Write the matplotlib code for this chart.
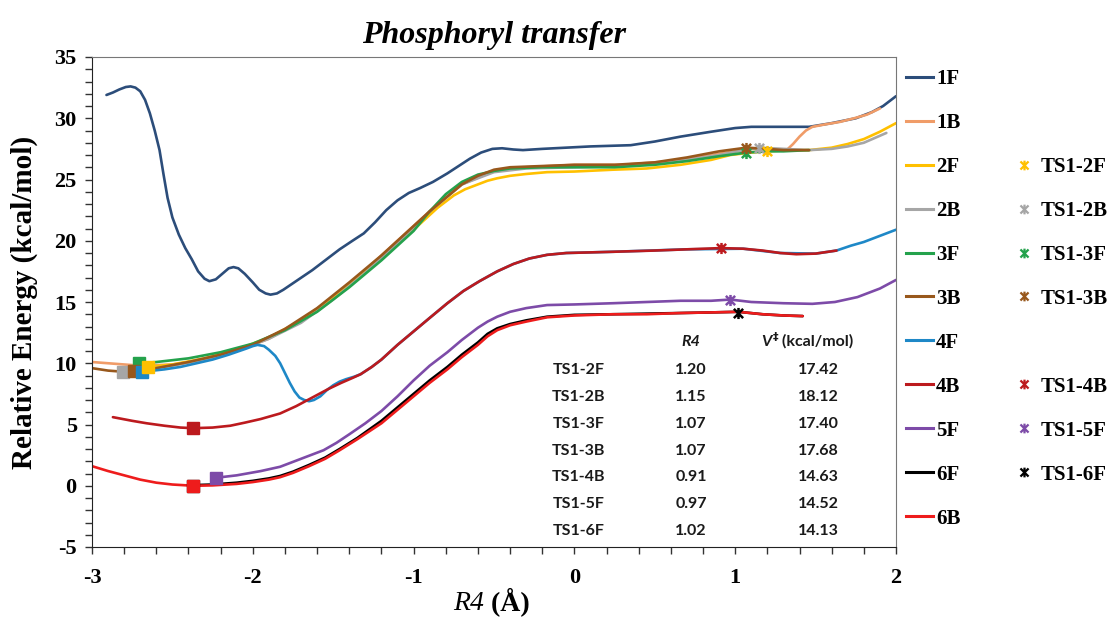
import matplotlib
matplotlib.use('Agg')
import matplotlib.pyplot as plt
from matplotlib.lines import Line2D
from matplotlib.path import Path
from matplotlib.ticker import MultipleLocator
from matplotlib.font_manager import FontProperties

plt.rcParams['axes.unicode_minus'] = False

# ---------------- data ----------------
series = ['1F', '1B', '2F', '2B', '3F', '3B', '4F', '4B', '5F', '6F', '6B']
colors = ['#2C4D7A', '#F09C68', '#FFC000', '#A6A6A6', '#24A24C', '#98581C',
          '#1E88C7', '#BC1A1E', '#7D4BA8', '#000000', '#EE1C1C']

x_1F = [-2.91, -2.87, -2.83, -2.79, -2.76, -2.73, -2.70, -2.67, -2.64, -2.61, -2.58, -2.555,
        -2.53, -2.50, -2.46, -2.42, -2.38, -2.34, -2.30, -2.27, -2.23, -2.19, -2.15, -2.12,
        -2.09, -2.05, -2.00, -1.96, -1.92, -1.89, -1.85, -1.81, -1.72, -1.63, -1.55, -1.46,
        -1.38, -1.31, -1.24, -1.17, -1.10, -1.03, -0.96, -0.88, -0.79, -0.72, -0.65, -0.58,
        -0.51, -0.45, -0.38, -0.32, -0.20, -0.05, 0.10, 0.35, 0.50, 0.66, 0.85, 1.00,
        1.10, 1.30, 1.46, 1.60, 1.75, 1.85, 1.92, 2.00]
y_1F = [31.9, 32.1, 32.35, 32.55, 32.6, 32.5, 32.2, 31.5, 30.4, 29.0, 27.4, 25.4,
        23.5, 21.9, 20.5, 19.4, 18.5, 17.5, 16.9, 16.7, 16.85, 17.3, 17.75, 17.85,
        17.75, 17.3, 16.6, 16.0, 15.7, 15.6, 15.7, 16.0, 16.8, 17.6, 18.4, 19.3,
        20.0, 20.6, 21.5, 22.5, 23.3, 23.9, 24.3, 24.8, 25.5, 26.1, 26.7, 27.2,
        27.5, 27.55, 27.45, 27.4, 27.5, 27.6, 27.7, 27.8, 28.1, 28.5, 28.9, 29.2,
        29.3, 29.3, 29.3, 29.6, 30.0, 30.5, 31.0, 31.8]

x_1B = [-3.00, -2.90, -2.80, -2.70, -2.50, -2.30, -2.10, -1.90, -1.70, -1.50, -1.30, -1.10,
        -0.90, -0.70, -0.50, -0.30, 0.00, 0.30, 0.60, 0.90, 1.10, 1.20, 1.32, 1.36, 1.40,
        1.44, 1.48, 1.56, 1.65, 1.74, 1.82, 1.90]
y_1B = [10.1, 10.0, 9.9, 9.8, 9.9, 10.3, 11.0, 12.0, 13.5, 15.4, 17.6, 20.0,
        22.4, 24.6, 25.7, 26.0, 26.2, 26.2, 26.5, 27.1, 27.5, 27.4, 27.4, 27.9, 28.5,
        29.0, 29.3, 29.5, 29.7, 30.0, 30.3, 30.8]

x_2F = [-2.73, -2.65, -2.50, -2.30, -2.10, -1.90, -1.70, -1.50, -1.30, -1.10, -1.00, -0.95,
        -0.90, -0.85, -0.80, -0.75, -0.68, -0.60, -0.54, -0.48, -0.40, -0.30, -0.17, 0.00,
        0.24, 0.45, 0.66, 0.85, 0.97, 1.10, 1.20, 1.35, 1.46, 1.60, 1.70, 1.80, 1.90, 2.00]
y_2F = [9.9, 9.7, 9.9, 10.4, 11.1, 12.1, 13.5, 15.4, 17.5, 19.8, 20.9, 21.5,
        22.1, 22.7, 23.2, 23.7, 24.2, 24.6, 24.9, 25.1, 25.3, 25.45, 25.6, 25.65,
        25.8, 25.9, 26.2, 26.6, 27.0, 27.2, 27.3, 27.4, 27.4, 27.6, 27.9, 28.3, 28.9, 29.6]

x_2B = [-2.81, -2.70, -2.50, -2.30, -2.10, -1.90, -1.70, -1.50, -1.30, -1.10, -0.90, -0.70,
        -0.50, -0.30, 0.00, 0.30, 0.60, 0.90, 1.05, 1.15, 1.30, 1.46, 1.60, 1.70, 1.80, 1.87, 1.94]
y_2B = [9.3, 9.4, 9.8, 10.3, 11.0, 12.0, 13.3, 15.2, 17.4, 19.8, 22.4, 24.6,
        25.6, 25.9, 26.0, 26.1, 26.4, 27.0, 27.4, 27.6, 27.5, 27.4, 27.5, 27.7, 28.0, 28.4, 28.8]

x_3F = [-2.71, -2.60, -2.40, -2.20, -2.00, -1.80, -1.60, -1.40, -1.20, -1.00, -0.90, -0.80,
        -0.70, -0.60, -0.50, -0.40, -0.20, 0.00, 0.25, 0.50, 0.70, 0.90, 1.07, 1.20, 1.30, 1.46]
y_3F = [10.0, 10.1, 10.4, 10.9, 11.6, 12.7, 14.2, 16.2, 18.4, 20.8, 22.4, 23.8,
        24.8, 25.4, 25.7, 25.9, 26.0, 26.0, 26.0, 26.2, 26.5, 26.9, 27.2, 27.3, 27.3, 27.4]

x_3B = [-3.00, -2.90, -2.80, -2.74, -2.60, -2.40, -2.20, -2.00, -1.80, -1.60, -1.40, -1.20,
        -1.00, -0.90, -0.80, -0.70, -0.60, -0.50, -0.40, -0.20, 0.00, 0.25, 0.50, 0.70, 0.90,
        1.07, 1.20, 1.30, 1.46]
y_3B = [9.6, 9.4, 9.3, 9.35, 9.6, 10.1, 10.7, 11.5, 12.8, 14.5, 16.6, 18.8,
        21.2, 22.4, 23.5, 24.6, 25.3, 25.8, 26.0, 26.1, 26.2, 26.2, 26.4, 26.8, 27.3,
        27.6, 27.5, 27.4, 27.4]

x_4F = [-2.69, -2.55, -2.45, -2.35, -2.25, -2.15, -2.04, -2.00, -1.97, -1.93, -1.90, -1.86,
        -1.83, -1.80, -1.77, -1.74, -1.71, -1.68, -1.65, -1.62, -1.58, -1.54, -1.50, -1.46,
        -1.42, -1.37, -1.33, -1.26, -1.20, -1.10, -1.00, -0.90, -0.79, -0.69, -0.59, -0.48,
        -0.38, -0.28, -0.17, -0.05, 0.24, 0.70, 1.05, 1.28, 1.50, 1.63, 1.72, 1.80, 1.90, 2.00]
y_4F = [9.3, 9.5, 9.7, 10.0, 10.3, 10.7, 11.2, 11.4, 11.5, 11.4, 11.1, 10.6,
        10.0, 9.2, 8.4, 7.7, 7.2, 7.0, 6.9, 7.0, 7.3, 7.8, 8.2, 8.5,
        8.7, 8.9, 9.1, 9.7, 10.3, 11.5, 12.6, 13.7, 14.9, 15.9, 16.7, 17.5,
        18.1, 18.55, 18.85, 19.0, 19.1, 19.3, 19.35, 19.0, 18.95, 19.2, 19.6, 19.9, 20.4, 20.9]

x_4B = [-2.87, -2.75, -2.66, -2.55, -2.45, -2.37, -2.25, -2.14, -2.05, -1.95, -1.83, -1.73,
        -1.63, -1.53, -1.45, -1.38, -1.33, -1.26, -1.20, -1.10, -1.00, -0.90, -0.79, -0.69,
        -0.59, -0.48, -0.38, -0.28, -0.17, -0.05, 0.10, 0.24, 0.50, 0.70, 0.91, 1.05, 1.17,
        1.28, 1.38, 1.50, 1.63]
y_4B = [5.6, 5.3, 5.1, 4.9, 4.75, 4.7, 4.75, 4.9, 5.15, 5.45, 5.9, 6.5,
        7.2, 7.9, 8.4, 8.8, 9.1, 9.7, 10.3, 11.5, 12.6, 13.7, 14.9, 15.9,
        16.7, 17.5, 18.1, 18.55, 18.85, 19.0, 19.05, 19.1, 19.2, 19.3, 19.4, 19.35, 19.2,
        19.0, 18.9, 18.95, 19.2]

x_5F = [-2.23, -2.10, -1.95, -1.83, -1.70, -1.56, -1.48, -1.40, -1.30, -1.20, -1.10, -1.00,
        -0.90, -0.79, -0.70, -0.60, -0.54, -0.48, -0.40, -0.30, -0.17, 0.00, 0.24, 0.45,
        0.66, 0.85, 0.97, 1.10, 1.30, 1.48, 1.62, 1.76, 1.90, 2.00]
y_5F = [0.65, 0.85, 1.2, 1.55, 2.2, 2.9, 3.5, 4.2, 5.1, 6.1, 7.3, 8.6,
        9.8, 10.9, 11.9, 12.9, 13.4, 13.8, 14.2, 14.5, 14.75, 14.8, 14.9, 15.0,
        15.1, 15.1, 15.2, 15.0, 14.9, 14.85, 15.0, 15.4, 16.1, 16.8]

x_6F = [-2.37, -2.25, -2.10, -2.00, -1.90, -1.83, -1.75, -1.65, -1.55, -1.46, -1.35, -1.20,
        -1.10, -1.00, -0.90, -0.79, -0.70, -0.60, -0.54, -0.48, -0.40, -0.30, -0.17, 0.00,
        0.24, 0.45, 0.66, 0.85, 1.02, 1.17, 1.30, 1.42]
y_6F = [0.05, 0.1, 0.25, 0.4, 0.6, 0.8, 1.15, 1.7, 2.3, 3.0, 3.9, 5.3,
        6.4, 7.5, 8.6, 9.7, 10.7, 11.7, 12.4, 12.85, 13.2, 13.5, 13.8, 13.95,
        14.0, 14.05, 14.1, 14.15, 14.2, 14.0, 13.9, 13.85]

x_6B = [-3.00, -2.90, -2.80, -2.70, -2.60, -2.50, -2.37, -2.25, -2.10, -2.00, -1.90, -1.83,
        -1.75, -1.65, -1.55, -1.46, -1.35, -1.20, -1.10, -1.00, -0.90, -0.79, -0.70, -0.60,
        -0.54, -0.48, -0.40, -0.30, -0.17, 0.00, 0.24, 0.45, 0.66, 0.85, 1.02, 1.17, 1.30, 1.42]
y_6B = [1.6, 1.2, 0.85, 0.5, 0.25, 0.1, 0.0, 0.03, 0.15, 0.3, 0.5, 0.7,
        1.05, 1.6, 2.2, 2.9, 3.8, 5.1, 6.2, 7.3, 8.4, 9.5, 10.5, 11.5,
        12.2, 12.7, 13.1, 13.4, 13.75, 13.9, 14.0, 14.0, 14.1, 14.15, 14.2, 14.0, 13.9, 13.85]

curves_x = [x_1F, x_1B, x_2F, x_2B, x_3F, x_3B, x_4F, x_4B, x_5F, x_6F, x_6B]
curves_y = [y_1F, y_1B, y_2F, y_2B, y_3F, y_3B, y_4F, y_4B, y_5F, y_6F, y_6B]

# starting-structure squares
sq_series = ['2B', '3F', '3B', '4F', '2F', '4B', '5F', '6F', '6B']
sq_x = [-2.81, -2.71, -2.74, -2.69, -2.65, -2.37, -2.23, -2.37, -2.37]
sq_y = [9.3, 10.0, 9.35, 9.3, 9.7, 4.7, 0.65, 0.0, 0.0]

# transition states
ts_names = ['TS1-2F', 'TS1-2B', 'TS1-3F', 'TS1-3B', 'TS1-4B', 'TS1-5F', 'TS1-6F']
ts_series = ['2F', '2B', '3F', '3B', '4B', '5F', '6F']
ts_r4 = [1.20, 1.15, 1.07, 1.07, 0.91, 0.97, 1.02]
ts_energy = [27.3, 27.6, 27.2, 27.6, 19.4, 15.2, 14.1]
ts_barrier = ['17.42', '18.12', '17.40', '17.68', '14.63', '14.52', '14.13']
ts_r4_text = ['1.20', '1.15', '1.07', '1.07', '0.91', '0.97', '1.02']

# legend layout (second column: TS markers, blanks where none)
legend_col2 = ['', '', 'TS1-2F', 'TS1-2B', 'TS1-3F', 'TS1-3B', '', 'TS1-4B', 'TS1-5F', 'TS1-6F', '']

# ---------------- figure ----------------
cmap = dict(zip(series, colors))
star = Path([(-1, -1), (1, 1), (-1, 1), (1, -1), (0, -1.2), (0, 1.2)],
            [Path.MOVETO, Path.LINETO, Path.MOVETO, Path.LINETO, Path.MOVETO, Path.LINETO])

fig = plt.figure(figsize=(11.16, 6.17), dpi=100)
ax = fig.add_axes([92 / 1116, 70 / 617, 804 / 1116, 490 / 617])

for name, xs, ys in zip(series, curves_x, curves_y):
    ax.plot(xs, ys, color=cmap[name], lw=1.9, solid_capstyle='round',
            solid_joinstyle='round', zorder=2)

for name, xs, ys in zip(sq_series, sq_x, sq_y):
    ax.plot([xs], [ys], marker='s', markersize=8.5, color=cmap[name], linestyle='none', zorder=3)

for name, xs, ys in zip(ts_series, ts_r4, ts_energy):
    ax.plot([xs], [ys], marker=star, markersize=8, mew=1.8, color=cmap[name],
            linestyle='none', zorder=4)

ax.set_xlim(-3, 2)
ax.set_ylim(-5, 35)
ax.set_xticks(range(-3, 3))
ax.set_yticks(range(-5, 36, 5))
ax.xaxis.set_minor_locator(MultipleLocator(0.2))
ax.yaxis.set_minor_locator(MultipleLocator(1))
ax.tick_params(which='both', direction='out', length=5, width=1, color='#333333')
ax.tick_params(axis='y', pad=6)
ax.tick_params(axis='x', pad=10)
tick_font = FontProperties(family='Liberation Serif', weight='bold', size=16)
for lab in ax.get_xticklabels() + ax.get_yticklabels():
    lab.set_fontproperties(tick_font)

for s in ['left', 'bottom']:
    ax.spines[s].set_color('#222222')
for s in ['top', 'right']:
    ax.spines[s].set_color('#777777')

ax.set_title('Phosphoryl transfer', fontfamily='Liberation Serif', fontweight='bold',
             fontstyle='italic', fontsize=23, pad=10)
ax.set_ylabel('Relative Energy (kcal/mol)', fontfamily='Liberation Serif', fontweight='bold',
              fontsize=21, labelpad=12)

# x-axis title: italic "R4" followed by bold "(Å)"
xl1 = ax.text(0.4876, -0.128, 'R4', transform=ax.transAxes, ha='right', va='baseline',
              family='Liberation Serif', style='italic', size=20)
ax.annotate(' (Å)', xy=(1, 0), xycoords=xl1, ha='left', va='bottom',
            family='Liberation Serif', weight='bold', size=20)

# table of transition states
tfont = dict(family='Lato', weight='bold', size=11.5, color='#1a1a1a')
col_name, col_r4, col_v = 0.605, 0.745, 0.904
row0, drow = 0.361, 0.0547
ax.text(col_r4, 0.419, 'R4', transform=ax.transAxes, ha='center', va='center',
        fontstyle='italic', **tfont)
tv = ax.text(0.833, 0.419, 'V', transform=ax.transAxes, ha='left', va='center',
             fontstyle='italic', **tfont)
td = ax.annotate('‡', xy=(1.05, 0.45), xycoords=tv, ha='left', va='bottom',
                 family='DejaVu Sans', weight='bold', size=8, color='#1a1a1a')
ax.annotate(' (kcal/mol)', xy=(1, 0), xycoords=(td, tv), ha='left', va='bottom', **tfont)
for i in range(len(ts_names)):
    yy = row0 - i * drow
    ax.text(col_name, yy, ts_names[i], transform=ax.transAxes, ha='center', va='center', **tfont)
    ax.text(col_r4, yy, ts_r4_text[i], transform=ax.transAxes, ha='center', va='center', **tfont)
    ax.text(col_v, yy, ts_barrier[i], transform=ax.transAxes, ha='center', va='center', **tfont)

# legend
handles, labels = [], []
for name in series:
    handles.append(Line2D([], [], color=cmap[name], lw=2.2))
    labels.append(name)
ts_map = dict(zip(ts_names, ts_series))
for lab in legend_col2:
    if lab:
        handles.append(Line2D([], [], color=cmap[ts_map[lab]], marker=star, markersize=7,
                              mew=1.6, linestyle='none'))
        labels.append(lab)
    else:
        handles.append(Line2D([], [], linestyle='none'))
        labels.append(' ')
fig.legend(handles, labels, ncol=2, loc='upper left', bbox_to_anchor=(906 / 1116, 1 - 69 / 617),
           frameon=False, prop=FontProperties(family='Liberation Serif', weight='bold', size=15),
           handlelength=1.3, handletextpad=0.15, columnspacing=2.4, labelspacing=1.15,
           borderpad=0, borderaxespad=0)

fig.savefig('out.png', dpi=100)
